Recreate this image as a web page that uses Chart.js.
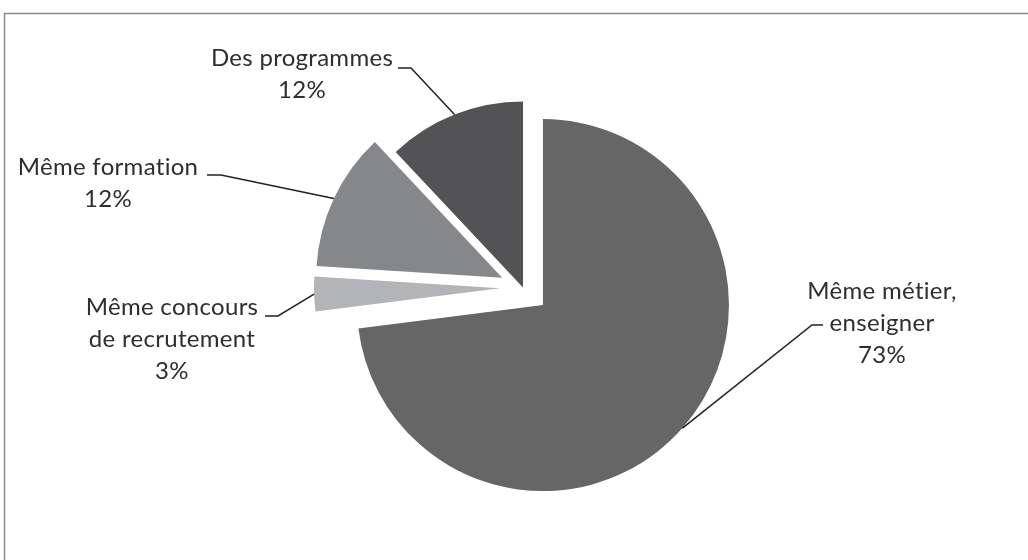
<!DOCTYPE html>
<html lang="fr">
<head>
<meta charset="utf-8">
<title>Camembert</title>
<script src="https://cdn.jsdelivr.net/npm/chart.js@4.4.1/dist/chart.umd.min.js"></script>
<style>
  html, body { margin: 0; padding: 0; background: #fff; }
  canvas { display: block; }
</style>
</head>
<body>
<canvas id="chart1" width="1028" height="560"></canvas>
<script>
// Données
const categories = [
  ['Même métier,', 'enseigner'],
  ['Même concours', 'de recrutement'],
  ['Même formation'],
  ['Des programmes']
];
const values = [73, 3, 12, 12];
const sliceColors = ['#666667', '#b3b4b8', '#86878b', '#535355'];

// Décalage (px) des parts sorties du camembert
const explode = [26.6, 23, 23, 0];

// Placement des étiquettes : centre du texte, 1re ligne de base, coude et bout du trait
const labelLayout = [
  { x: 882, y: 299, elbow: [812, 325], end: [823, 325] },
  { x: 172, y: 315, elbow: [278, 316], end: [265, 316] },
  { x: 108, y: 175, elbow: [221, 175], end: [207, 175] },
  { x: 302, y: 66, elbow: [411, 68], end: [398, 68] }
];

// Cadre gris (bord gauche et haut)
const frame = {
  id: 'frame',
  beforeDraw(chart) {
    const ctx = chart.ctx;
    ctx.save();
    ctx.fillStyle = '#fff';
    ctx.fillRect(0, 0, chart.width, chart.height);
    ctx.strokeStyle = '#8a8a8a';
    ctx.lineWidth = 1.5;
    ctx.beginPath();
    ctx.moveTo(4.5, chart.height);
    ctx.lineTo(4.5, 13.5);
    ctx.lineTo(chart.width, 13.5);
    ctx.stroke();
    ctx.restore();
  }
};

// Parts éclatées + étiquettes avec traits de rappel
const explodedPie = {
  id: 'explodedPie',
  beforeDatasetDraw(chart, args) {
    const ctx = chart.ctx;
    args.meta.data.forEach((arc, i) => {
      const mid = (arc.startAngle + arc.endAngle) / 2;
      ctx.save();
      ctx.translate(Math.cos(mid) * explode[i], Math.sin(mid) * explode[i]);
      arc.draw(ctx, chart.chartArea);
      ctx.restore();
    });
    return false;
  },
  afterDatasetsDraw(chart) {
    const ctx = chart.ctx;
    const arcs = chart.getDatasetMeta(0).data;
    const total = values.reduce((a, b) => a + b, 0);
    ctx.save();
    ctx.font = '24px Lato';
    ctx.letterSpacing = '0.3px'; // évite la ligature « ti » de Lato
    ctx.fillStyle = '#2e2e2e';
    ctx.textAlign = 'center';
    ctx.textBaseline = 'alphabetic';
    ctx.strokeStyle = '#222';
    ctx.lineWidth = 1.5;
    arcs.forEach((arc, i) => {
      const p = arc.getProps(['x', 'y', 'startAngle', 'endAngle', 'outerRadius'], true);
      const mid = (p.startAngle + p.endAngle) / 2;
      const r = p.outerRadius + explode[i];
      const L = labelLayout[i];
      ctx.beginPath();
      ctx.moveTo(p.x + Math.cos(mid) * r, p.y + Math.sin(mid) * r);
      ctx.lineTo(L.elbow[0], L.elbow[1]);
      ctx.lineTo(L.end[0], L.end[1]);
      ctx.stroke();
      const lines = categories[i].concat([Math.round(values[i] / total * 100) + '%']);
      lines.forEach((t, k) => ctx.fillText(t, L.x, L.y + k * 32));
    });
    ctx.restore();
  }
};

function draw() {
  const ctx = document.getElementById('chart1').getContext('2d');
  new Chart(ctx, {
    type: 'pie',
    data: {
      labels: categories.map(c => c.join(' ')),
      datasets: [{
        data: values,
        backgroundColor: sliceColors,
        borderWidth: 0,
        radius: 186
      }]
    },
    options: {
      responsive: false,
      animation: false,
      radius: 186,
      layout: { padding: { left: 18, right: 0, top: 15, bottom: 0 } },
      plugins: {
        legend: { display: false },
        tooltip: { enabled: false }
      }
    },
    plugins: [frame, explodedPie]
  });
}

document.fonts.load('24px Lato').then(draw, draw);
</script>
</body>
</html>
